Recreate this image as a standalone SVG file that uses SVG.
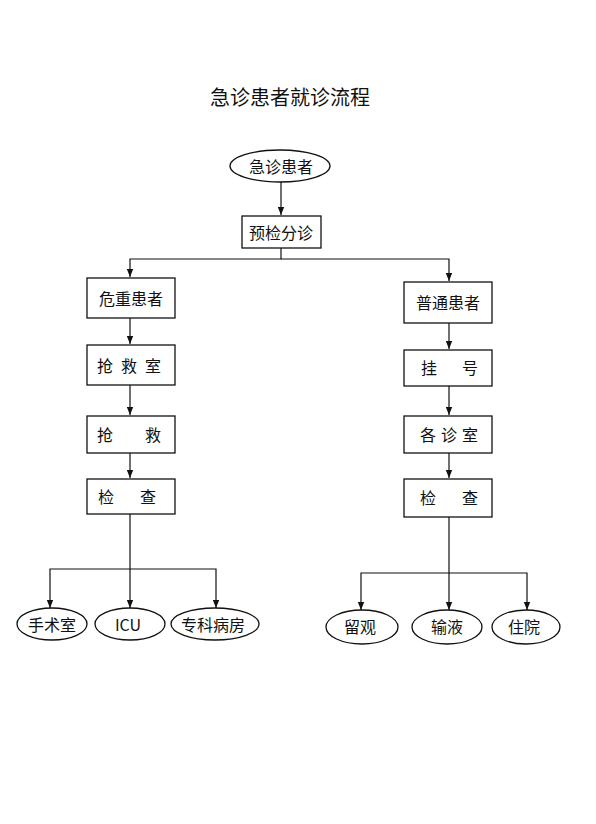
<svg xmlns="http://www.w3.org/2000/svg" width="596" height="824" viewBox="0 0 596 824">
<style>
.t{font-family:"Noto Sans CJK SC","Noto Sans",sans-serif;font-size:16px;fill:#111;text-anchor:middle;dominant-baseline:central}
.s{font-family:"Noto Sans CJK SC","Noto Sans",sans-serif;font-size:16px;fill:#111;dominant-baseline:central}
.n{fill:#fff;stroke:#111;stroke-width:1.3}
.c{fill:none;stroke:#111;stroke-width:1.2}
</style>
<defs>
<marker id="a" viewBox="0 0 8 8" refX="8" refY="4" markerWidth="8" markerHeight="8" markerUnits="userSpaceOnUse" orient="auto">
<path d="M0,0.8 L8,4 L0,7.2 Z" fill="#111"/>
</marker>
</defs>
<rect width="596" height="824" fill="#fff"/>
<text x="290" y="96" class="t" style="font-size:20px">急诊患者就诊流程</text>
<g id="connectors">
<path class="c" d="M281,182 V215" marker-end="url(#a)"/>
<path class="c" d="M281,248 V259 H130 V277" marker-end="url(#a)"/>
<path class="c" d="M281,259 H449 V281" marker-end="url(#a)"/>
<path class="c" d="M130,318 V344" marker-end="url(#a)"/>
<path class="c" d="M130,385 V415" marker-end="url(#a)"/>
<path class="c" d="M130,453 V478" marker-end="url(#a)"/>
<path class="c" d="M449,323 V349" marker-end="url(#a)"/>
<path class="c" d="M449,386 V415" marker-end="url(#a)"/>
<path class="c" d="M449,453 V478" marker-end="url(#a)"/>
<path class="c" d="M130,514 V569 H50 V608" marker-end="url(#a)"/>
<path class="c" d="M130,569 V608" marker-end="url(#a)"/>
<path class="c" d="M130,569 H216 V608" marker-end="url(#a)"/>
<path class="c" d="M449,517 V573 H361 V610" marker-end="url(#a)"/>
<path class="c" d="M449,573 V610" marker-end="url(#a)"/>
<path class="c" d="M449,573 H527 V610" marker-end="url(#a)"/>
</g>
<g id="n-start"><ellipse class="n" cx="280" cy="166" rx="50" ry="16"/><text class="t" x="281" y="166">急诊患者</text></g>
<g id="n-triage"><rect class="n" x="242" y="216" width="79" height="32"/><text class="t" x="281" y="232">预检分诊</text></g>
<g id="n-critical"><rect class="n" x="87" y="278" width="88" height="40"/><text class="t" x="131" y="298">危重患者</text></g>
<g id="n-rescueroom"><rect class="n" x="87" y="345" width="88" height="40"/><text class="s" x="97" y="365">抢 <tspan x="121">救 </tspan><tspan x="145">室</tspan></text></g>
<g id="n-rescue"><rect class="n" x="87" y="416" width="88" height="37"/><text class="s" x="97" y="434">抢 <tspan x="145">救</tspan></text></g>
<g id="n-check1"><rect class="n" x="87" y="479" width="88" height="35"/><text class="s" x="98" y="496">检 <tspan x="140">查</tspan></text></g>
<g id="n-normal"><rect class="n" x="404" y="282" width="88" height="41"/><text class="t" x="448" y="302">普通患者</text></g>
<g id="n-register"><rect class="n" x="404" y="350" width="88" height="36"/><text class="s" x="421" y="367">挂 <tspan x="462">号</tspan></text></g>
<g id="n-clinic"><rect class="n" x="404" y="416" width="88" height="37"/><text class="s" x="420" y="434">各 <tspan x="441">诊 </tspan><tspan x="462">室</tspan></text></g>
<g id="n-check2"><rect class="n" x="404" y="479" width="88" height="38"/><text class="s" x="420" y="497">检 <tspan x="462">查</tspan></text></g>
<g id="n-surgery"><ellipse class="n" cx="52" cy="624" rx="35" ry="16"/><text class="t" x="52" y="624">手术室</text></g>
<g id="n-icu"><ellipse class="n" cx="130" cy="624" rx="35" ry="16"/><text class="t" x="128" y="624">ICU</text></g>
<g id="n-ward"><ellipse class="n" cx="215" cy="624" rx="44" ry="16"/><text class="t" x="213" y="624">专科病房</text></g>
<g id="n-observe"><ellipse class="n" cx="362" cy="627" rx="36" ry="17"/><text class="t" x="360" y="626">留观</text></g>
<g id="n-infusion"><ellipse class="n" cx="447" cy="627" rx="35" ry="17"/><text class="t" x="447" y="626">输液</text></g>
<g id="n-admit"><ellipse class="n" cx="526" cy="627" rx="34" ry="17"/><text class="t" x="524" y="626">住院</text></g>
</svg>
